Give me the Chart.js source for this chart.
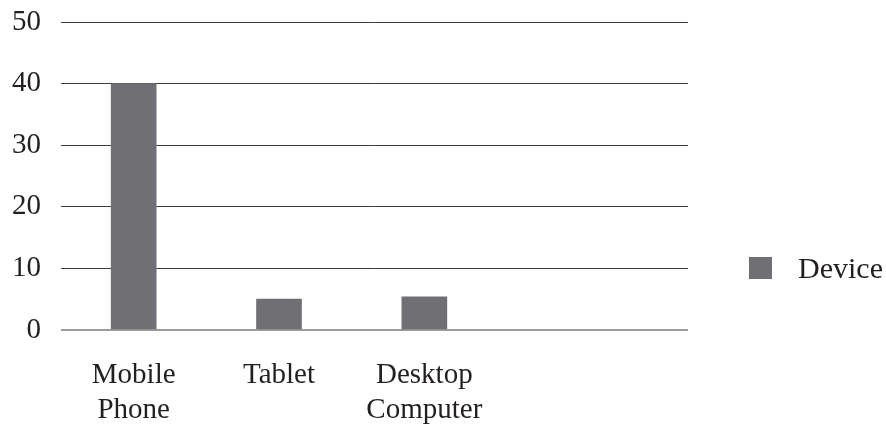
<!DOCTYPE html>
<html>
<head>
<meta charset="utf-8">
<script src="https://cdn.jsdelivr.net/npm/chart.js@4/dist/chart.umd.min.js"></script>
<style>
  html, body { margin: 0; padding: 0; background: #ffffff; }
  #wrap { position: relative; width: 886px; height: 432px; }
  #legend {
    position: absolute; left: 749px; top: 251px;
    display: flex; align-items: center;
    font-family: 'Liberation Serif', serif; font-size: 30px; color: #231f20;
  }
  #legend .swatch { width: 23px; height: 22px; margin-right: 26px; }
</style>
</head>
<body>
<div id="wrap">
  <canvas id="chart"></canvas>
  <div id="legend"></div>
</div>
<script>
// =========================================================================
// DATA
// =========================================================================
const categories = ['Mobile Phone', 'Tablet', 'Desktop Computer'];
const tickLabels = [['Mobile', 'Phone'], ['Tablet'], ['Desktop', 'Computer']];
const deviceValues = [40, 5, 5.4];
const yTicks = [0, 10, 20, 30, 40, 50];
const seriesName = 'Device';

const barColor = '#707074';
const textColor = '#231f20';
const serif = 'Liberation Serif';

// Build chart (linear x so the category slots follow the original spacing)
const ctx = document.getElementById('chart').getContext('2d');
const chart = new Chart(ctx, {
    type: 'bar',
    data: {
        datasets: [{
            label: seriesName,
            data: categories.map((c, i) => ({ x: i + 1, y: deviceValues[i] })),
            backgroundColor: barColor,
            borderWidth: 0,
            barThickness: 45
        }]
    },
    options: {
        responsive: true,
        maintainAspectRatio: false,
        animation: false,
        layout: { padding: { top: 22, right: 198, bottom: 0, left: 0 } },
        plugins: {
            legend: { display: false },
            tooltip: { enabled: false }
        },
        scales: {
            x: {
                type: 'linear',
                min: 0.5,
                max: 4.814,
                offset: false,
                grid: { display: false, offset: false },
                border: { display: false },
                afterBuildTicks: scale => {
                    scale.ticks = categories.map((c, i) => ({ value: i + 1 }));
                },
                afterFit: scale => { scale.height = 102; },
                ticks: {
                    padding: 20,
                    color: textColor,
                    font: { family: serif, size: 29, lineHeight: 1.2 },
                    maxRotation: 0,
                    autoSkip: false,
                    callback: value => tickLabels[value - 1] || ''
                }
            },
            y: {
                min: 0,
                max: 50,
                afterBuildTicks: scale => {
                    scale.ticks = yTicks.map(v => ({ value: v }));
                },
                afterFit: scale => {
                    scale.width = 61;
                    // keep tick padding from pushing the plot down
                    scale.paddingTop = 0;
                    scale.paddingBottom = 0;
                },
                border: { display: false },
                grid: {
                    drawTicks: false,
                    color: c => c.tick.value === 0 ? '#9c9c9c' : '#3c3c3c',
                    lineWidth: c => c.tick.value === 0 ? 2 : 1
                },
                ticks: {
                    padding: 20,
                    color: textColor,
                    font: { family: serif, size: 29 }
                }
            }
        }
    }
});

// Legend built from the dataset
const legend = document.getElementById('legend');
chart.data.datasets.forEach(ds => {
    const sw = document.createElement('span');
    sw.className = 'swatch';
    sw.style.background = ds.backgroundColor;
    const txt = document.createElement('span');
    txt.textContent = ds.label;
    legend.appendChild(sw);
    legend.appendChild(txt);
});
</script>
</body>
</html>
